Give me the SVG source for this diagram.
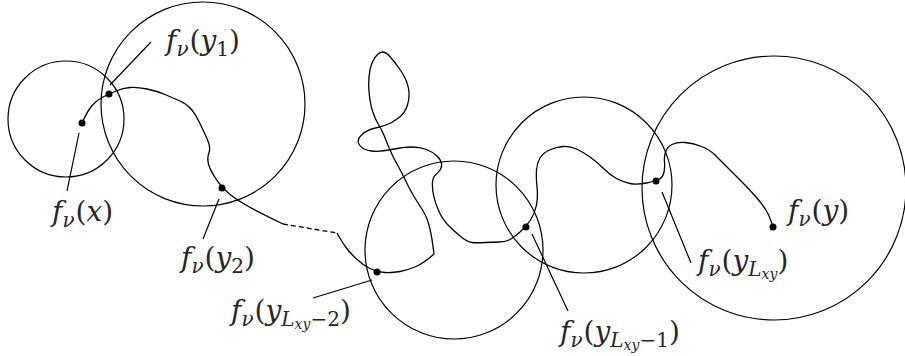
<svg xmlns="http://www.w3.org/2000/svg" width="905" height="356" viewBox="0 0 905 356">
<style>
.c{fill:none;stroke:#000;stroke-width:1.2}
.p{fill:none;stroke:#000;stroke-width:1.3;stroke-linejoin:round}
.d{fill:none;stroke:#000;stroke-width:1.3;stroke-dasharray:5 3}
.ld{stroke:#000;stroke-width:1.2}
.dot{fill:#000}
.lbl{font-family:'DejaVu Serif',serif;font-size:28px;fill:#262626}
.it{font-style:italic}
.sub{font-size:20px}
.ss{font-size:14px}
</style>
<rect width="905" height="356" fill="#fff"/>
<g id="balls">
<circle id="ball-x" class="c" cx="66" cy="119" r="58"/>
<circle id="ball-y1" class="c" cx="203" cy="104" r="102"/>
<circle id="ball-yL2" class="c" cx="454" cy="250" r="89"/>
<circle id="ball-yL1" class="c" cx="584" cy="185" r="88"/>
<circle id="ball-y" class="c" cx="774" cy="188" r="132"/>
</g>
<g id="connectors">
<path id="path-start" class="p" d="M82,123 Q88,110 92.5,105 Q97,100 103,97 Q109,94 116,91 Q123,88 130,87.5 Q137,87 147,89 Q157,91 165,94.5 Q173,98 180,101 Q187,104 191.5,109.5 Q196,115 199.5,122.5 Q203,130 207,138.5 Q211,147 209,152.5 Q207,158 208.5,164 Q210,170 216,179 Q222,188 229.5,194 Q237,200 248.5,206.5 Q260,213 283,224"/>
<path id="path-gap" class="d" d="M283,224 L337,233"/>
<path id="path-end" class="p" d="M337,233 Q342,242 346,247.5 Q350,253 356.5,259 Q363,265 370,268.5 Q377,272 384.5,272.5 Q392,273 400,271.5 Q408,270 416,266.5 Q424,263 434,254 Q432,237 429.5,227 Q427,217 422.5,210 Q418,203 414,196.5 Q410,190 406,181.5 Q402,173 397.5,165 Q393,157 390,150 Q387,143 384.5,136.5 Q382,130 378.5,124.5 Q375,119 372.5,111 Q370,103 369,91.5 Q368,80 370,70 Q372,60 377.5,54.5 Q383,49 389,55.5 Q395,62 401,71 Q407,80 408.5,88.5 Q410,97 407.5,105 Q405,113 398.5,118 Q392,123 386,125 Q380,127 373.5,128.5 Q367,130 361.5,135 Q356,140 359.5,145 Q363,150 371.5,151 Q380,152 391.5,149.5 Q403,147 411.5,147 Q420,147 426.5,149.5 Q433,152 437,156 Q441,160 441.5,163.5 Q442,167 440,170 Q438,173 435.5,175 Q433,177 432.5,182 Q432,187 433.5,195 Q435,203 439,211.5 Q443,220 448,225 Q453,230 460,236 Q467,242 472,242.5 Q477,243 485,242.5 Q493,242 499,242 Q505,242 509,240 Q513,238 519.5,232.5 Q526,227 530.5,220 Q535,213 536.5,205 Q538,197 537,187 Q536,177 536.5,170 Q537,163 540,158 Q543,153 549.5,150 Q556,147 563,146.5 Q570,146 576.5,149 Q583,152 590,157 Q597,162 603.5,168.5 Q610,175 616.5,178.5 Q623,182 630,183.5 Q637,185 646.5,183 Q656,181 659.5,179 Q663,177 664,172 Q665,167 664.5,162 Q664,157 665.5,152 Q667,147 672,144.5 Q677,142 685,142.5 Q693,143 701.5,146.5 Q710,150 715,155 Q720,160 726.5,166.5 Q733,173 741.5,181.5 Q750,190 756.5,197.5 Q763,205 766.5,211 Q770,217 773,227"/>
<line class="ld" x1="110" y1="85" x2="151" y2="42"/>
<line class="ld" x1="79" y1="133" x2="67" y2="191"/>
<line class="ld" x1="219" y1="199" x2="203" y2="239"/>
<line class="ld" x1="372" y1="280" x2="313" y2="298"/>
<line class="ld" x1="532" y1="234" x2="568" y2="311"/>
<line class="ld" x1="662" y1="192" x2="691" y2="263"/>
</g>
<g id="node-x">
<circle class="dot" cx="82" cy="123" r="3.5"/>
<text class="lbl" x="52" y="221"><tspan class="it">f</tspan><tspan class="it sub" dy="6">ν</tspan><tspan dy="-6" dx="1">(</tspan><tspan class="it">x</tspan><tspan>)</tspan></text>
</g>
<g id="node-y1">
<circle class="dot" cx="109" cy="94" r="3.5"/>
<text class="lbl" x="166" y="50"><tspan class="it">f</tspan><tspan class="it sub" dy="6">ν</tspan><tspan dy="-6" dx="1">(</tspan><tspan class="it">y</tspan><tspan class="sub" dy="6">1</tspan><tspan dy="-6">)</tspan></text>
</g>
<g id="node-y2">
<circle class="dot" cx="222" cy="188" r="3.5"/>
<text class="lbl" x="181" y="267"><tspan class="it">f</tspan><tspan class="it sub" dy="6">ν</tspan><tspan dy="-6" dx="1">(</tspan><tspan class="it">y</tspan><tspan class="sub" dy="6">2</tspan><tspan dy="-6">)</tspan></text>
</g>
<g id="node-yL2">
<circle class="dot" cx="377" cy="272" r="3.5"/>
<text class="lbl" x="231" y="320"><tspan class="it">f</tspan><tspan class="it sub" dy="6">ν</tspan><tspan dy="-6" dx="1">(</tspan><tspan class="it">y</tspan><tspan class="it sub" dy="6">L</tspan><tspan class="it ss" dy="3">xy</tspan><tspan class="sub" dy="-3">−2</tspan><tspan dy="-6">)</tspan></text>
</g>
<g id="node-yL1">
<circle class="dot" cx="526" cy="227" r="3.5"/>
<text class="lbl" x="560" y="341"><tspan class="it">f</tspan><tspan class="it sub" dy="6">ν</tspan><tspan dy="-6" dx="1">(</tspan><tspan class="it">y</tspan><tspan class="it sub" dy="6">L</tspan><tspan class="it ss" dy="3">xy</tspan><tspan class="sub" dy="-3">−1</tspan><tspan dy="-6">)</tspan></text>
</g>
<g id="node-yL">
<circle class="dot" cx="656" cy="181" r="3.5"/>
<text class="lbl" x="698" y="270"><tspan class="it">f</tspan><tspan class="it sub" dy="6">ν</tspan><tspan dy="-6" dx="1">(</tspan><tspan class="it">y</tspan><tspan class="it sub" dy="6">L</tspan><tspan class="it ss" dy="3">xy</tspan><tspan dy="-9">)</tspan></text>
</g>
<g id="node-y">
<circle class="dot" cx="773" cy="227" r="3.5"/>
<text class="lbl" x="788" y="220"><tspan class="it">f</tspan><tspan class="it sub" dy="6">ν</tspan><tspan dy="-6" dx="1">(</tspan><tspan class="it">y</tspan><tspan>)</tspan></text>
</g>
</svg>
